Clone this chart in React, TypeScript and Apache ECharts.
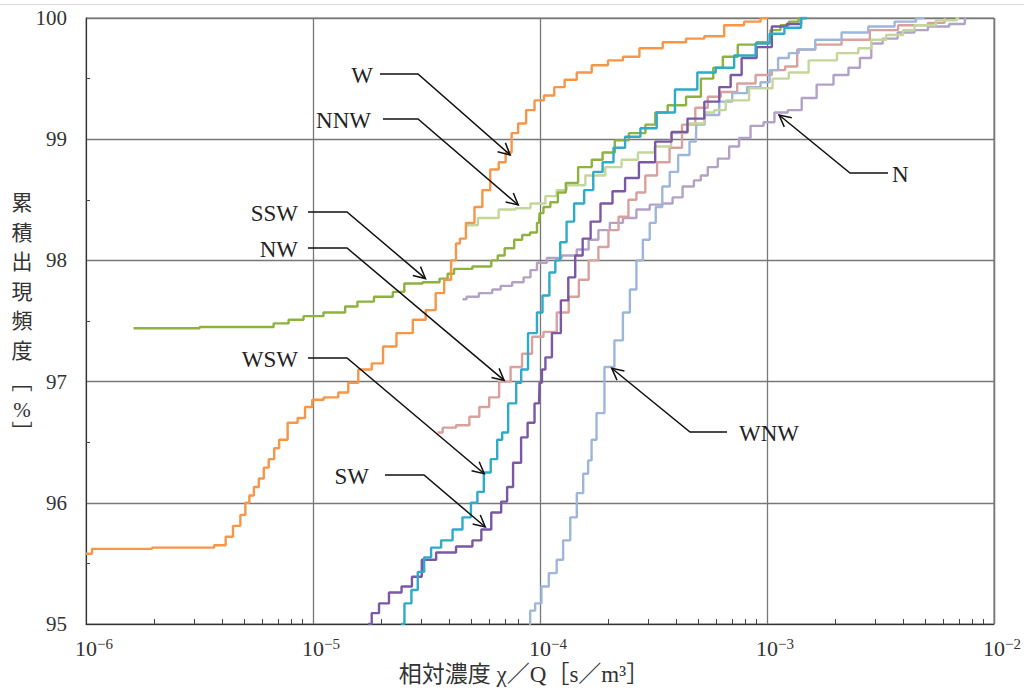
import React, { useEffect, useRef } from "react";
import * as echarts from "echarts";

const SERIF = "'Liberation Serif', 'DejaVu Serif', 'Noto Sans CJK JP', serif";
const CJK = "'Liberation Serif', 'Noto Sans CJK JP', serif";

// ---- axis text ----
const xExpLabels = ["−6", "−5", "−4", "−3", "−2"];
const xAxisTitle = "相対濃度 χ／Q［s／m³］";
const yTitleChars = ["累", "積", "出", "現", "頻", "度"];
const yTitleUnit = ["﹇", "%", "﹈"];

// ---- series (cumulative frequency of relative concentration) ----
const W_x = [1.0e-6, 1.13e-6, 3.38e-6, 3.98e-6, 4.27e-6, 4.62e-6, 4.96e-6, 5.11e-6, 5.38e-6, 5.6e-6, 5.95e-6, 6.19e-6, 6.58e-6, 6.92e-6, 7.27e-6, 8.22e-6, 8.9e-6, 9.56e-6, 1.03e-5, 1.205e-5, 1.387e-5, 1.474e-5, 1.7e-5, 1.935e-5, 2.14e-5, 2.54e-5, 2.98e-5, 3.3e-5, 3.65e-5, 3.92e-5, 4.2e-5, 4.33e-5, 4.55e-5, 4.89e-5, 5.41e-5, 5.74e-5, 6.35e-5, 6.81e-5, 7.31e-5, 7.69e-5, 8.34e-5, 9.04e-5, 9.9e-5, 1.095e-4, 1.22e-4, 1.35e-4, 1.56e-4, 1.83e-4, 2.17e-4, 2.48e-4, 3.03e-4, 3.98e-4, 4.86e-4, 5.77e-4, 7.27e-4, 8.64e-4, 1.015e-3];
const W_y = [95.58, 95.62, 95.63, 95.65, 95.72, 95.81, 95.9, 96.0, 96.06, 96.13, 96.2, 96.29, 96.36, 96.45, 96.52, 96.66, 96.7, 96.79, 96.85, 96.87, 96.91, 96.99, 97.1, 97.15, 97.29, 97.4, 97.51, 97.59, 97.73, 97.84, 98.0, 98.14, 98.18, 98.31, 98.44, 98.58, 98.75, 98.81, 98.89, 99.05, 99.13, 99.24, 99.32, 99.36, 99.43, 99.49, 99.55, 99.61, 99.65, 99.68, 99.75, 99.8, 99.83, 99.85, 99.94, 99.97, 100.0];

const SSW_x = [1.62e-6, 6.19e-6, 7.27e-6, 8.38e-6, 9.85e-6, 1.254e-5, 1.53e-5, 1.61e-5, 2.14e-5, 2.36e-5, 2.7e-5, 3.43e-5, 3.8e-5, 4.04e-5, 4.33e-5, 5.86e-5, 6.35e-5, 6.68e-5, 7.31e-5, 8.1e-5, 8.6e-5, 9.5e-5, 9.9e-5, 1.0e-4, 1.073e-4, 1.15e-4, 1.25e-4, 1.35e-4, 1.605e-4, 1.78e-4, 2.0e-4, 2.28e-4, 2.66e-4, 3.19e-4, 3.25e-4, 4.1e-4, 4.72e-4, 5.54e-4, 6.07e-4, 6.72e-4, 8.22e-4, 9.85e-4, 1.09e-3, 1.205e-3, 1.29e-3, 1.47e-3];
const SSW_y = [97.44, 97.45, 97.48, 97.51, 97.54, 97.57, 97.62, 97.66, 97.7, 97.74, 97.81, 97.82, 97.85, 97.89, 97.93, 97.95, 98.0, 98.04, 98.1, 98.17, 98.21, 98.23, 98.31, 98.39, 98.44, 98.48, 98.56, 98.64, 98.77, 98.83, 98.89, 98.99, 99.05, 99.12, 99.22, 99.28, 99.35, 99.5, 99.59, 99.68, 99.78, 99.8, 99.9, 99.94, 99.97, 100.0];

const NNW_x = [4.69e-5, 6.05e-5, 7.15e-5, 8.5e-5, 9.7e-5, 1.15e-4, 1.22e-4, 1.41e-4, 1.78e-4, 2.11e-4, 2.48e-4, 2.94e-4, 3.48e-4, 4.1e-4, 4.86e-4, 5.77e-4, 5.95e-4, 7.27e-4, 9.56e-4, 1.17e-3, 1.33e-3, 1.75e-3, 2.36e-3, 2.7e-3, 3.07e-3, 3.65e-3, 4.33e-3, 4.6e-3, 6.68e-3, 7.02e-3];
const NNW_y = [98.29, 98.35, 98.42, 98.43, 98.47, 98.53, 98.58, 98.62, 98.7, 98.77, 98.83, 98.89, 98.94, 99.05, 99.13, 99.22, 99.24, 99.32, 99.42, 99.5, 99.55, 99.65, 99.71, 99.75, 99.82, 99.86, 99.9, 99.94, 99.98, 100.0];

const WSW_x = [2.44e-5, 2.62e-5, 2.81e-5, 2.98e-5, 3.2e-5, 3.43e-5, 3.92e-5, 4.33e-5, 4.79e-5, 5.14e-5, 5.46e-5, 5.86e-5, 6.28e-5, 6.68e-5, 6.95e-5, 7.54e-5, 8.18e-5, 8.34e-5, 9.4e-5, 1.0e-4, 1.052e-4, 1.15e-4, 1.187e-4, 1.27e-4, 1.35e-4, 1.48e-4, 1.655e-4, 1.78e-4, 2.0e-4, 2.22e-4, 2.53e-4, 3.03e-4, 3.52e-4, 4.39e-4, 5.54e-4, 6.38e-4, 8.05e-4, 9.85e-4, 1.07e-3, 1.33e-3, 1.5e-3];
const WSW_y = [95.0, 95.17, 95.28, 95.43, 95.55, 95.63, 95.69, 95.78, 95.88, 96.0, 96.09, 96.25, 96.36, 96.52, 96.58, 96.82, 96.99, 97.1, 97.4, 97.57, 97.71, 97.9, 98.0, 98.15, 98.32, 98.47, 98.58, 98.73, 98.81, 98.93, 99.02, 99.09, 99.22, 99.41, 99.55, 99.59, 99.69, 99.79, 99.87, 99.92, 100.0];

const SW_x = [1.75e-5, 1.88e-5, 2.03e-5, 2.3e-5, 2.62e-5, 2.84e-5, 3.2e-5, 3.8e-5, 4.79e-5, 5.3e-5, 5.74e-5, 6.48e-5, 7.02e-5, 7.31e-5, 7.92e-5, 8.6e-5, 9.04e-5, 9.9e-5, 1.0e-4, 1.04e-4, 1.073e-4, 1.187e-4, 1.286e-4, 1.38e-4, 1.48e-4, 1.605e-4, 1.74e-4, 1.96e-4, 2.22e-4, 2.53e-4, 2.94e-4, 3.52e-4, 4.1e-4, 4.86e-4, 5.77e-4, 6.58e-4, 7.27e-4, 8.22e-4, 9.85e-4, 1.12e-3, 1.33e-3, 1.5e-3];
const SW_y = [95.0, 95.09, 95.17, 95.26, 95.31, 95.39, 95.53, 95.59, 95.64, 95.69, 95.78, 95.92, 96.01, 96.13, 96.33, 96.54, 96.66, 96.82, 96.99, 97.1, 97.2, 97.4, 97.67, 97.86, 98.04, 98.18, 98.32, 98.47, 98.57, 98.68, 98.81, 98.98, 99.06, 99.17, 99.31, 99.43, 99.53, 99.67, 99.76, 99.93, 99.95, 100.0];

const NW_x = [3.54e-5, 3.92e-5, 4.64e-5, 5.14e-5, 5.68e-5, 6.28e-5, 6.95e-5, 7.92e-5, 8.77e-5, 9.7e-5, 1.106e-4, 1.27e-4, 1.41e-4, 1.56e-4, 1.72e-4, 1.9e-4, 2.11e-4, 2.33e-4, 2.58e-4, 2.74e-4, 3.09e-4, 3.48e-4, 3.98e-4, 4.48e-4, 5.21e-4, 5.77e-4, 6.78e-4, 8.05e-4, 9.85e-4, 1.12e-3, 1.29e-3, 1.43e-3, 1.86e-3, 2.44e-3, 3.3e-3, 4.33e-3, 6.05e-3, 6.1e-3];
const NW_y = [96.58, 96.62, 96.64, 96.71, 96.79, 96.87, 97.0, 97.12, 97.23, 97.37, 97.41, 97.57, 97.7, 97.84, 98.0, 98.11, 98.25, 98.36, 98.5, 98.56, 98.7, 98.81, 98.93, 99.12, 99.26, 99.35, 99.39, 99.46, 99.53, 99.57, 99.6, 99.74, 99.78, 99.82, 99.9, 99.94, 99.96, 100.0];

const WNW_x = [8.95e-5, 9.15e-5, 9.9e-5, 1.04e-4, 1.15e-4, 1.22e-4, 1.31e-4, 1.41e-4, 1.496e-4, 1.605e-4, 1.655e-4, 1.72e-4, 1.83e-4, 2.02e-4, 2.24e-4, 2.4e-4, 2.58e-4, 2.74e-4, 2.94e-4, 3.15e-4, 3.32e-4, 3.6e-4, 3.86e-4, 4.27e-4, 4.86e-4, 4.9e-4, 5.77e-4, 6.58e-4, 7.5e-4, 8.9e-4, 9.85e-4, 1.07e-3, 1.17e-3, 1.33e-3, 1.43e-3, 1.86e-3, 2.44e-3, 3.2e-3, 4.16e-3, 4.94e-3];
const WNW_y = [95.0, 95.11, 95.17, 95.31, 95.42, 95.53, 95.69, 95.88, 96.08, 96.24, 96.35, 96.52, 96.74, 97.12, 97.34, 97.57, 97.76, 98.0, 98.17, 98.31, 98.44, 98.61, 98.73, 98.87, 98.98, 99.12, 99.2, 99.31, 99.38, 99.43, 99.47, 99.57, 99.67, 99.71, 99.74, 99.82, 99.88, 99.93, 99.97, 100.0];

const N_x = [4.56e-5, 4.94e-5, 5.86e-5, 6.48e-5, 6.95e-5, 8.18e-5, 8.77e-5, 9.4e-5, 1.0e-4, 1.15e-4, 1.35e-4, 1.56e-4, 1.72e-4, 1.9e-4, 2.17e-4, 2.48e-4, 2.85e-4, 3.25e-4, 3.7e-4, 3.98e-4, 4.53e-4, 5.01e-4, 5.21e-4, 5.77e-4, 6.38e-4, 7.27e-4, 7.8e-4, 9.18e-4, 1.015e-3, 1.146e-3, 1.33e-3, 1.52e-3, 1.8e-3, 2.14e-3, 2.44e-3, 2.7e-3, 3.07e-3, 3.4e-3, 4.16e-3, 4.79e-3, 5.46e-3, 7.38e-3, 7.5e-3];
const N_y = [97.68, 97.7, 97.73, 97.76, 97.79, 97.82, 97.86, 97.92, 97.98, 98.02, 98.04, 98.09, 98.17, 98.25, 98.31, 98.35, 98.42, 98.46, 98.47, 98.52, 98.61, 98.66, 98.7, 98.77, 98.84, 98.94, 99.01, 99.11, 99.14, 99.22, 99.24, 99.34, 99.45, 99.53, 99.59, 99.67, 99.79, 99.83, 99.88, 99.9, 99.93, 99.95, 100.0];

const seriesNames = ["N", "NW", "WNW", "NNW", "SSW", "SW", "WSW", "W"];
const seriesX = [N_x, NW_x, WNW_x, NNW_x, SSW_x, SW_x, WSW_x, W_x];
const seriesY = [N_y, NW_y, WNW_y, NNW_y, SSW_y, SW_y, WSW_y, W_y];
const seriesColors = ["#B3A2C7", "#D9A19D", "#9DB6DA", "#C4D79B", "#8DB23E", "#7A58A6", "#2EABC8", "#F79646"];

// ---- callouts: label and the point its arrow touches ----
const annoNames = ["W", "NNW", "SSW", "NW", "WSW", "SW", "WNW", "N"];
const annoTipX = [7.39e-5, 8.02e-5, 3.13e-5, 6.95e-5, 5.68e-5, 5.74e-5, 2.07e-4, 1.13e-3];
const annoTipY = [98.87, 98.457, 97.85, 97.01, 96.24, 95.8, 97.11, 99.2];
// layout of each callout (pixels): side of label, label edge x, leader y, leader start x, elbow x
const annoLayout = [
  { side: "left", textX: 373, lineY: 74, startX: 380, elbowX: 418 },
  { side: "left", textX: 371, lineY: 119, startX: 383, elbowX: 418 },
  { side: "left", textX: 298, lineY: 212, startX: 308, elbowX: 347 },
  { side: "left", textX: 298, lineY: 248, startX: 308, elbowX: 347 },
  { side: "left", textX: 298, lineY: 358, startX: 308, elbowX: 347 },
  { side: "left", textX: 369, lineY: 475, startX: 385, elbowX: 424 },
  { side: "right", textX: 739, lineY: 432, startX: 727, elbowX: 690 },
  { side: "right", textX: 892, lineY: 173, startX: 888, elbowX: 850 },
];

export default function App() {
  const ref = useRef<HTMLDivElement>(null);

  useEffect(() => {
    if (!ref.current) return;
    const chart = echarts.init(ref.current, null, { renderer: "svg" });

    const series = seriesNames.map((name, i) => ({
      name,
      type: "line",
      step: "middle",
      showSymbol: false,
      symbol: "none",
      data: seriesX[i].map((x, k) => [x, seriesY[i][k]]),
      lineStyle: { color: seriesColors[i], width: 2.4 },
      itemStyle: { color: seriesColors[i] },
      z: 3,
    }));

    chart.setOption({
      animation: false,
      backgroundColor: "#ffffff",
      grid: {
        left: 86,
        right: 24,
        top: 18,
        bottom: 69,
        show: true,
        borderColor: "#777",
        borderWidth: 1,
        backgroundColor: "transparent",
      },
      xAxis: {
        type: "log",
        logBase: 10,
        min: 1e-6,
        max: 1e-2,
        splitNumber: 4,
        axisLine: { show: true, lineStyle: { color: "#333", width: 1 } },
        axisTick: { show: false, inside: true },
        minorTick: { show: true, splitNumber: 9, length: 5, lineStyle: { color: "#444", width: 1 } },
        splitLine: { show: true, lineStyle: { color: "#777", width: 1.3 } },
        minorSplitLine: { show: false },
        axisLabel: {
          margin: 12,
          formatter: (v: number) => {
            const e = Math.round(Math.log10(v));
            return `{sp|}{b|10}{s|${xExpLabels[e + 6]}}`;
          },
          rich: {
            sp: { width: 16 },
            b: { fontSize: 22, fontFamily: SERIF, color: "#333", lineHeight: 23, verticalAlign: "bottom" },
            s: { fontSize: 15, fontFamily: SERIF, color: "#333", lineHeight: 15, verticalAlign: "top" },
          },
        },
      },
      yAxis: {
        type: "value",
        min: 95,
        max: 100,
        interval: 1,
        axisLine: { show: true, lineStyle: { color: "#333", width: 1 } },
        axisTick: { show: false, inside: true },
        minorTick: { show: true, splitNumber: 2, length: 4, lineStyle: { color: "#444", width: 1 } },
        splitLine: { show: true, lineStyle: { color: "#777", width: 1.3 } },
        axisLabel: { margin: 19, fontSize: 21, fontFamily: SERIF, color: "#333" },
      },
      series,
    });

    const graphics: any[] = [];
    graphics.push({
      type: "line",
      shape: { x1: 0, y1: 4.5, x2: 1024, y2: 4.5 },
      style: { stroke: "#dcdcdc", lineWidth: 1 },
      silent: true,
    });
    graphics.push({
      type: "text",
      x: 524,
      y: 674,
      style: { text: xAxisTitle, font: `23px ${CJK}`, fill: "#333", align: "center", verticalAlign: "middle" },
    });
    yTitleChars.forEach((ch, i) => {
      graphics.push({
        type: "text",
        x: 22,
        y: 203 + i * 29.5,
        style: { text: ch, font: `21px ${CJK}`, fill: "#333", align: "center", verticalAlign: "middle" },
      });
    });
    const unitY = [382, 410, 432];
    yTitleUnit.forEach((ch, i) => {
      graphics.push({
        type: "text",
        x: 22,
        y: unitY[i],
        style: { text: ch, font: `21px ${CJK}`, fill: "#333", align: "center", verticalAlign: "middle" },
      });
    });

    annoNames.forEach((name, i) => {
      const L = annoLayout[i];
      const tip = chart.convertToPixel({ gridIndex: 0 }, [annoTipX[i], annoTipY[i]]) as number[];
      const ex = L.elbowX;
      const ey = L.lineY;
      graphics.push({
        type: "polyline",
        shape: { points: [[L.startX, L.lineY], [ex, ey], [tip[0], tip[1]]] },
        style: { stroke: "#111", lineWidth: 1.5, fill: null },
        z: 10,
      });
      const dx = tip[0] - ex;
      const dy = tip[1] - ey;
      const len = Math.sqrt(dx * dx + dy * dy);
      const ux = dx / len;
      const uy = dy / len;
      const a = (27 * Math.PI) / 180;
      const h = 13;
      const p1 = [tip[0] - h * (ux * Math.cos(a) - uy * Math.sin(a)), tip[1] - h * (uy * Math.cos(a) + ux * Math.sin(a))];
      const p2 = [tip[0] - h * (ux * Math.cos(a) + uy * Math.sin(a)), tip[1] - h * (uy * Math.cos(a) - ux * Math.sin(a))];
      graphics.push({
        type: "polyline",
        shape: { points: [p1, [tip[0], tip[1]], p2] },
        style: { stroke: "#111", lineWidth: 1.5, fill: null },
        z: 10,
      });
      graphics.push({
        type: "text",
        x: L.textX,
        y: L.lineY + 1,
        style: {
          text: name,
          font: `23px ${SERIF}`,
          fill: "#222",
          align: L.side === "left" ? "right" : "left",
          verticalAlign: "middle",
        },
        z: 10,
      });
    });

    chart.setOption({ graphic: graphics });

    return () => {
      chart.dispose();
    };
  }, []);

  return (
    <div
      ref={ref}
      style={{ position: "fixed", left: 0, top: 0, width: 1024, height: 693, background: "#ffffff" }}
    />
  );
}
